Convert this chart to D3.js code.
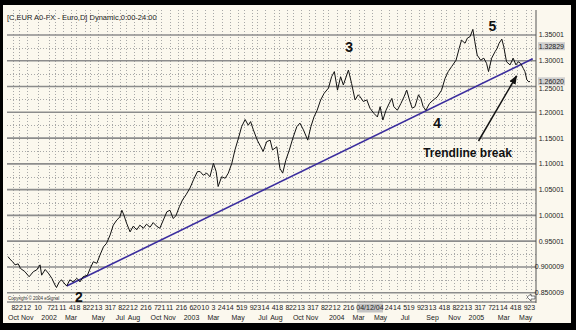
<!DOCTYPE html>
<html><head><meta charset="utf-8">
<script src="https://cdn.jsdelivr.net/npm/d3@7"></script>
<style>html,body{margin:0;padding:0;background:#000;}svg{display:block;}</style>
</head><body><svg id="c" width="576" height="330"></svg>
<script>
// ---- data (EUR/USD daily close) ----
const priceDates = ["2001-09-24","2001-09-29","2001-10-06","2001-10-12","2001-10-20","2001-10-26","2001-11-06","2001-11-17","2001-11-28","2001-12-06","2001-12-15","2001-12-19","2001-12-28",
"2002-01-05","2002-01-14","2002-01-22","2002-01-26","2002-02-02","2002-02-08","2002-02-14","2002-02-21","2002-03-01","2002-03-10","2002-03-19","2002-03-27","2002-04-04","2002-04-15","2002-04-22","2002-04-30","2002-05-09","2002-05-17","2002-05-26","2002-06-03","2002-06-12","2002-06-20","2002-06-29","2002-07-07","2002-07-12","2002-07-17","2002-07-24","2002-08-02","2002-08-10","2002-08-19","2002-08-27","2002-09-05","2002-09-13","2002-09-22","2002-09-30","2002-10-09","2002-10-17","2002-10-26","2002-11-04","2002-11-12","2002-11-20","2002-11-27","2002-12-06","2002-12-14","2002-12-23",
"2003-01-02","2003-01-11","2003-01-21","2003-01-28","2003-02-05","2003-02-14","2003-02-22","2003-03-03","2003-03-10","2003-03-15","2003-03-24","2003-04-02","2003-04-10","2003-04-19","2003-04-27","2003-05-06","2003-05-14","2003-05-23","2003-05-31","2003-06-06","2003-06-13","2003-06-23","2003-07-02","2003-07-08","2003-07-17","2003-07-26","2003-08-01","2003-08-12","2003-08-20","2003-08-27","2003-09-04","2003-09-13","2003-09-22","2003-10-02","2003-10-10","2003-10-19","2003-10-30","2003-11-07","2003-11-15","2003-11-23","2003-12-02","2003-12-11","2003-12-22","2003-12-30",
"2004-01-06","2004-01-14","2004-01-22","2004-01-29","2004-02-11","2004-02-19","2004-02-28","2004-03-07","2004-03-12","2004-03-20","2004-03-29","2004-04-06","2004-04-16","2004-04-25","2004-05-02","2004-05-09","2004-05-17","2004-05-25","2004-06-01","2004-06-06","2004-06-15","2004-06-24","2004-07-02","2004-07-09","2004-07-16","2004-07-23","2004-07-30","2004-08-08","2004-08-14","2004-08-20","2004-08-27","2004-09-05","2004-09-15","2004-09-25","2004-10-06","2004-10-15","2004-10-23","2004-11-01","2004-11-12","2004-11-20","2004-11-26","2004-12-05","2004-12-11","2004-12-18","2004-12-25","2004-12-30",
"2005-01-05","2005-01-14","2005-01-22","2005-01-29","2005-02-03","2005-02-11","2005-02-20","2005-02-25","2005-03-02","2005-03-09","2005-03-14","2005-03-21","2005-03-30","2005-04-07","2005-04-14","2005-04-20","2005-04-26","2005-05-03","2005-05-07","2005-05-12","2005-05-17","2005-05-20"];
const priceValues = [0.920,0.915,0.910,0.904,0.906,0.897,0.891,0.881,0.891,0.894,0.904,0.884,0.895,
0.888,0.878,0.865,0.860,0.871,0.875,0.869,0.863,0.875,0.871,0.878,0.871,0.881,0.884,0.897,0.910,0.907,0.923,0.939,0.946,0.962,0.981,0.991,0.997,1.010,1.001,0.985,0.968,0.979,0.972,0.981,0.975,0.983,0.977,0.986,0.979,0.975,0.991,1.007,1.010,0.994,0.999,1.017,1.030,1.040,
1.053,1.069,1.085,1.085,1.078,1.082,1.075,1.101,1.085,1.056,1.075,1.072,1.082,1.101,1.127,1.150,1.172,1.186,1.175,1.182,1.166,1.146,1.133,1.124,1.143,1.146,1.127,1.133,1.091,1.082,1.107,1.127,1.150,1.172,1.179,1.166,1.146,1.172,1.191,1.204,1.224,1.237,1.247,1.269,
1.279,1.243,1.269,1.253,1.282,1.256,1.224,1.234,1.230,1.221,1.224,1.208,1.198,1.191,1.211,1.185,1.204,1.217,1.227,1.211,1.204,1.217,1.230,1.243,1.224,1.208,1.211,1.234,1.227,1.211,1.204,1.217,1.224,1.230,1.243,1.266,1.279,1.289,1.301,1.324,1.340,1.334,1.344,1.347,1.361,1.337,
1.311,1.301,1.305,1.295,1.279,1.305,1.318,1.324,1.334,1.342,1.327,1.298,1.292,1.305,1.292,1.298,1.295,1.285,1.279,1.263,1.259,1.260];

const trendDates = ["2002-02-21","2005-05-27"];
const trendValues = [0.863, 1.304];

const yTickValues = [0.85,0.90,0.95,1.00,1.05,1.10,1.15,1.20,1.25,1.30,1.35];
const yTickLabels = ["0.850009","0.900009","0.95001","1.00001","1.05001","1.10001","1.15001","1.20001","1.25001","1.30001","1.35001"];
const yMinorValues = [0.875,0.925,0.975,1.025,1.075,1.125,1.175,1.225,1.275,1.325];

const tickDates = ["2001-10-08","2001-10-22","2001-11-12","2001-12-10",
"2002-01-07","2002-01-21","2002-02-11","2002-03-04","2002-03-18","2002-04-08","2002-04-22","2002-05-13","2002-06-03","2002-06-17","2002-07-08","2002-07-22","2002-08-12","2002-09-02","2002-09-16","2002-10-07","2002-10-21","2002-11-11","2002-12-02","2002-12-16",
"2003-01-06","2003-01-20","2003-02-10","2003-03-03","2003-03-24","2003-04-14","2003-05-05","2003-05-19","2003-06-09","2003-06-23","2003-07-14","2003-08-04","2003-08-18","2003-09-08","2003-09-22","2003-10-13","2003-11-03","2003-11-17","2003-12-08","2003-12-22",
"2004-01-12","2004-02-02","2004-02-16","2004-03-08","2004-03-22","2004-04-12","2004-05-03","2004-05-24","2004-06-14","2004-07-05","2004-07-19","2004-08-09","2004-08-23","2004-09-13","2004-10-04","2004-10-18","2004-11-08","2004-11-22","2004-12-13",
"2005-01-03","2005-01-17","2005-02-07","2005-02-21","2005-03-14","2005-04-04","2005-04-18","2005-05-09","2005-05-23"];
const tickLabels = ["8","22","12","10",
"7","21","11","4","18","8","22","13","3","17","8","22","12","2","16","7","21","11","2","16",
"6","20","10","3","24","14","5","19","9","23","14","4","18","8","22","13","3","17","8","22",
"12","2","16","8","22","12","3","24","14","5","19","9","23","13","4","18","8","22","13",
"3","17","7","21","14","4","18","9","23"];
const monthDates = ["2001-10-08","2001-11-12","2002-01-07","2002-03-04","2002-05-13","2002-07-08","2002-08-12","2002-10-07","2002-11-11","2003-01-06","2003-03-03","2003-05-05","2003-07-07","2003-08-11","2003-10-06","2003-11-10","2004-01-12","2004-03-08","2004-05-03","2004-07-05","2004-09-13","2004-11-08","2005-01-03","2005-03-14","2005-05-09"];
const monthLabels = ["Oct","Nov","2002","Mar","May","Jul","Aug","Oct","Nov","2003","Mar","May","Jul","Aug","Oct","Nov","2004","Mar","May","Jul","Sep","Nov","2005","Mar","May"];

const waveDates = ["2002-03-24","2004-02-13","2004-09-25","2005-02-13"];
const waveValues = [0.842,1.327,1.180,1.368];
const waveLabels = ["2","3","4","5"];

const cursorDate = "2004-04-06";
const cursorLabel = "04/12/04";
const markValues = [1.32829, 1.26020];
const markLabels = ["1.32829", "1.26020"];

// ---- drawing ----
const parse = d3.timeParse("%Y-%m-%d");
const svg = d3.select("#c");
const FONT = "'Liberation Sans', Arial, sans-serif";

svg.append("rect").attr("width",576).attr("height",330).attr("fill","#000");
svg.append("rect").attr("x",3).attr("y",5).attr("width",568).attr("height",318).attr("fill","#fbf8ee");

const plot = {left:7, right:536, top:10, bottom:302};
const x = d3.scaleTime().domain([parse("2001-09-24"), parse("2005-05-20")]).range([8, 530]);
const y = d3.scaleLinear().domain([0.85, 1.35]).range([292.7, 35]);

// vertical dotted grid
svg.append("g").selectAll("line").data(tickDates).join("line")
  .attr("x1", d => Math.round(x(parse(d)))+0.5).attr("x2", d => Math.round(x(parse(d)))+0.5)
  .attr("y1", plot.top).attr("y2", plot.bottom)
  .attr("stroke","#a8a8a8").attr("stroke-width",1).attr("stroke-dasharray","1,2");

// minor horizontal dotted
svg.append("g").selectAll("line").data(yMinorValues).join("line")
  .attr("x1", plot.left).attr("x2", plot.right)
  .attr("y1", d => Math.round(y(d))+0.5).attr("y2", d => Math.round(y(d))+0.5)
  .attr("stroke","#a8a8a8").attr("stroke-width",1).attr("stroke-dasharray","1,2");

// major horizontal solid
svg.append("g").selectAll("line").data(yTickValues).join("line")
  .attr("x1", plot.left).attr("x2", plot.right)
  .attr("y1", d => y(d)).attr("y2", d => y(d))
  .attr("stroke","#8c8c8c").attr("stroke-width",1.6);

// bottom border
svg.append("line").attr("x1",plot.left).attr("x2",plot.right).attr("y1",plot.bottom).attr("y2",plot.bottom)
  .attr("stroke","#8c8c8c").attr("stroke-width",1.4);
// right axis line
svg.append("line").attr("x1",plot.right).attr("x2",plot.right).attr("y1",plot.top).attr("y2",plot.bottom+1)
  .attr("stroke","#555").attr("stroke-width",1);

// right axis labels (1.25001 sits just under the 1.26020 marker box)
svg.append("g").selectAll("text").data(yTickValues).join("text")
  .attr("x", 564).attr("y", d => d === 1.25 ? y(d) + 2.2 : y(d)).attr("dy","0.35em")
  .attr("text-anchor","end").attr("font-family",FONT).attr("font-size",7).attr("fill","#222")
  .text((d,i) => yTickLabels[i]);

// highlighted current values
markValues.forEach((v,i) => {
  const g = svg.append("g");
  g.append("rect").attr("x",538).attr("y",y(v)-4).attr("width",27).attr("height",8).attr("fill","#cfcfcf");
  g.append("text").attr("x",564).attr("y",y(v)).attr("dy","0.35em").attr("text-anchor","end")
   .attr("font-family",FONT).attr("font-size",7).attr("fill","#222").text(markLabels[i]);
});

// trendline
svg.append("line")
  .attr("x1", x(parse(trendDates[0]))).attr("y1", y(trendValues[0]))
  .attr("x2", x(parse(trendDates[1]))).attr("y2", y(trendValues[1]))
  .attr("stroke","#3b2d9e").attr("stroke-width",1.6);

// price line
const line = d3.line().x(d => x(d[0])).y(d => y(d[1]));
svg.append("path").datum(priceDates.map((d,i) => [parse(d), priceValues[i]]))
  .attr("d", line).attr("fill","none").attr("stroke","#111").attr("stroke-width",1);

// wave labels
svg.append("g").selectAll("text").data(waveLabels).join("text")
  .attr("x",(d,i)=>x(parse(waveDates[i]))).attr("y",(d,i)=>y(waveValues[i]))
  .attr("text-anchor","middle").attr("dy","0.35em")
  .attr("font-family",FONT).attr("font-weight","bold").attr("font-size",14).attr("fill","#111").text(d=>d);

// trendline break annotation
const defs = svg.append("defs");
defs.append("marker").attr("id","ah").attr("viewBox","0 0 10 10").attr("refX",9).attr("refY",5)
  .attr("markerWidth",6).attr("markerHeight",6).attr("orient","auto")
  .append("path").attr("d","M0,1 L10,5 L0,9 z").attr("fill","#111");
svg.append("line").attr("x1",478.5).attr("y1",141).attr("x2",516.5).attr("y2",76)
  .attr("stroke","#111").attr("stroke-width",1.5).attr("marker-end","url(#ah)");
svg.append("text").attr("x",467.5).attr("y",153).attr("dy","0.35em").attr("text-anchor","middle")
  .attr("font-family",FONT).attr("font-weight","bold").attr("font-size",12).attr("fill","#111")
  .text("Trendline break");

// title
svg.append("text").attr("x",7).attr("y",17).attr("dy","0.35em")
  .attr("font-family",FONT).attr("font-size",7.5).attr("fill","#222")
  .text("[C,EUR A0-FX - Euro,D] Dynamic,0:00-24:00");
// copyright
svg.append("text").attr("x",8).attr("y",298.5).attr("dy","0.35em")
  .attr("font-family",FONT).attr("font-size",4.5).attr("fill","#333")
  .text("Copyright © 2004 eSignal");

// x tick labels (those under the cursor date box are hidden, as in the original)
const cx = x(parse(cursorDate));
const visTicks = tickDates.map((d,i)=>({x:x(parse(d)), t:tickLabels[i]})).filter(o => Math.abs(o.x - cx) > 16);
svg.append("g").selectAll("text").data(visTicks).join("text")
  .attr("x",d=>d.x).attr("y",308).attr("dy","0.35em")
  .attr("text-anchor","middle").attr("font-family",FONT).attr("font-size",7).attr("fill","#222")
  .text(d=>d.t);
svg.append("g").selectAll("text").data(monthLabels).join("text")
  .attr("x",(d,i)=>x(parse(monthDates[i]))).attr("y",317.5).attr("dy","0.35em")
  .attr("text-anchor","middle").attr("font-family",FONT).attr("font-size",7).attr("fill","#222")
  .text(d=>d);

// cursor date box
svg.append("rect").attr("x",cx-13).attr("y",303.5).attr("width",26).attr("height",9).attr("fill","#c4c4c4");
svg.append("text").attr("x",cx).attr("y",308).attr("dy","0.35em").attr("text-anchor","middle")
  .attr("font-family",FONT).attr("font-size",7).attr("fill","#222").text(cursorLabel);

// small scroll icon
svg.append("path").attr("d","M527,297 L531,294 L531,296 L535,296 L535,299 L531,299 L531,301 Z")
  .attr("fill","#fff").attr("stroke","#444").attr("stroke-width",0.7);
</script></body></html>
